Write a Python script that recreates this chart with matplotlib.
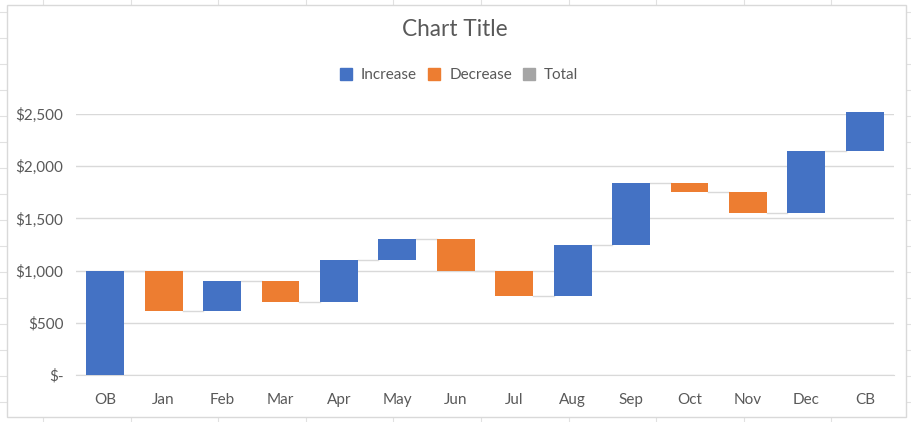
import numpy as np
import matplotlib

matplotlib.use("Agg")
import matplotlib.pyplot as plt
from matplotlib.patches import Patch, Rectangle
from matplotlib.lines import Line2D

# --------------------------------------------------------------------------- #
# Data (waterfall steps)
# --------------------------------------------------------------------------- #
categories = ["OB", "Jan", "Feb", "Mar", "Apr", "May", "Jun",
              "Jul", "Aug", "Sep", "Oct", "Nov", "Dec", "CB"]
changes = [1000, -390, 290, -200, 400, 200, -300,
           -240, 490, 590, -90, -200, 600, 370]
yticks = [0, 500, 1000, 1500, 2000, 2500]
ytick_labels = ["$-", "$500", "$1,000", "$1,500", "$2,000", "$2,500"]
legend_labels = ["Increase", "Decrease", "Total"]

BLUE = "#4472c4"
ORANGE = "#ed7d31"
GREY = "#a5a5a5"
TEXT = "#595959"
GRID = "#d9d9d9"

plt.rcParams["font.family"] = ["Lato", "DejaVu Sans"]

W, H = 912, 422
fig = plt.figure(figsize=(W / 100, H / 100), dpi=100)

# faint spreadsheet cell lines behind the chart
for x in np.arange(43, W, 87.6):
    fig.add_artist(Line2D([x / W, x / W], [0, 1], color="#e1e1e1", lw=0.8, zorder=-3))
for y in np.arange(12, H, 26):
    fig.add_artist(Line2D([0, 1], [1 - y / H, 1 - y / H], color="#e1e1e1", lw=0.8,
                          zorder=-3))

# chart area
fig.add_artist(Rectangle((7 / W, 5 / H), 899 / W, 412 / H, facecolor="white",
                         edgecolor="#d9d9d9", lw=1.0, transform=fig.transFigure,
                         zorder=-2))

ax = fig.add_axes([76 / W, (H - 375) / H, 818 / W, 261 / H])
ax.set_facecolor("none")

ends = np.cumsum(changes)
starts = ends - np.array(changes)
x = np.arange(len(categories))
bw = 0.65
colors = [BLUE if c >= 0 else ORANGE for c in changes]
bars = ax.bar(x, np.array(changes), bottom=starts, width=bw, color=colors, zorder=3)
for b in bars:
    b.set_clip_on(False)

# connectors
for i in range(len(categories) - 1):
    ax.plot([x[i] + bw / 2, x[i + 1] - bw / 2], [ends[i], ends[i]],
            color=GRID, lw=1.0, zorder=2)

ax.set_xlim(-0.5, len(categories) - 0.5)
ax.set_ylim(0, 2500)
ax.set_yticks(yticks, ytick_labels)
ax.set_xticks(x, categories)
ax.grid(axis="y", color=GRID, lw=1.0, zorder=0)
for s in ax.spines.values():
    s.set_visible(False)
ax.spines["bottom"].set_visible(True)
ax.spines["bottom"].set_color(GRID)
ax.tick_params(length=0, colors=TEXT, labelsize=11)
ax.tick_params(axis="x", pad=13)
ax.tick_params(axis="y", pad=9)

fig.text(455 / W, 1 - 29 / H, "Chart Title", ha="center", va="center",
         fontsize=16.3, color=TEXT)

handles = [Patch(color=c) for c in (BLUE, ORANGE, GREY)]
fig.legend(handles, legend_labels, loc="center", bbox_to_anchor=(459 / W, 1 - 75 / H),
           ncol=3, frameon=False, fontsize=11, labelcolor=TEXT,
           handlelength=0.8, handleheight=0.8, handletextpad=0.6, columnspacing=0.7)

fig.savefig("out.png", dpi=100)
